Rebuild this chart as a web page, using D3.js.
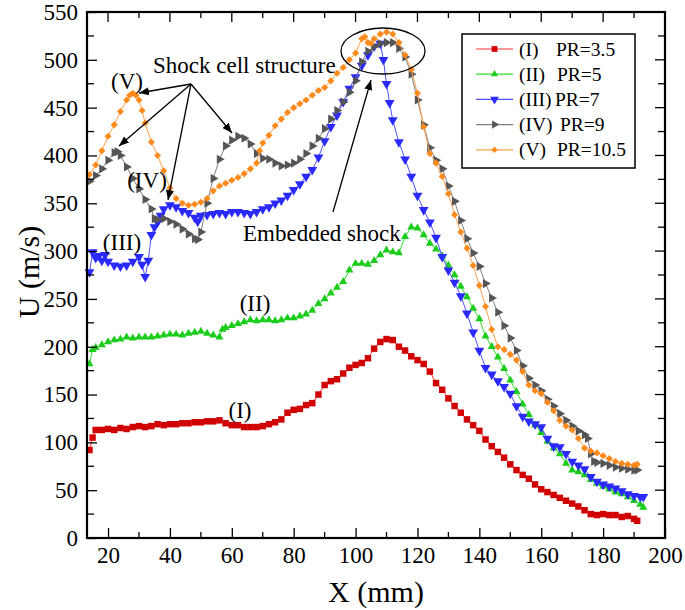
<!DOCTYPE html>
<html>
<head>
<meta charset="utf-8">
<script src="https://cdn.jsdelivr.net/npm/d3@7/dist/d3.min.js"></script>
<style>
  html, body { margin: 0; padding: 0; background: #fff; }
  svg { display: block; font-family: "Liberation Serif", "Times New Roman", serif; }
  svg text { font-family: "Liberation Serif", "Times New Roman", serif; }
</style>
</head>
<body>
<svg id="chart" width="685" height="610"></svg>
<script>
// ---------- DATA ----------
const xTicks = [20, 40, 60, 80, 100, 120, 140, 160, 180, 200];
const yTicks = [0, 50, 100, 150, 200, 250, 300, 350, 400, 450, 500, 550];

const x1 = [14,15,16,18,20,22,24,26,28,30,32,34,36,38,40,42,44,46,48,50,52,54,56,58,60,62,64,66,68,70,72,74,76,78,80,82,84,86,88,90,92,94,96,98,100,102,104,106,108,110,112,114,116,118,120,122,124,126,128,130,132,134,136,138,140,142,144,146,148,150,152,154,156,158,160,162,164,166,168,170,172,174,176,178,180,182,184,186,188,190,191];
const u1 = [92,105,113,113,114,113,115,114,116,117,116,117,119,118,119,119,120,120,121,121,122,122,123,120,118,118,116,116,116,117,119,121,124,131,134,135,139,141,150,160,164,166,172,178,181,183,188,198,205,208,207,200,196,190,186,182,174,162,155,146,138,131,124,118,112,103,96,90,84,77,71,66,62,56,51,48,45,42,39,36,33,29,25,24,25,24,24,22,23,20,18];

const x2 = [14,15,16,18,20,22,24,26,28,30,32,34,36,38,40,42,44,46,48,50,52,54,56,57,58,60,62,64,66,68,70,72,74,76,78,80,82,84,86,88,90,92,94,96,98,100,102,104,106,108,110,112,114,116,118,120,122,124,126,128,130,132,134,136,138,140,142,144,146,148,150,152,154,156,158,160,162,164,166,168,170,172,174,176,178,180,182,184,186,188,190,192,193];
const u2 = [182,197,199,202,205,207,208,210,209,210,210,210,211,212,213,213,212,214,215,216,214,212,210,218,220,222,224,226,228,227,228,228,227,228,230,230,232,234,238,245,250,256,262,268,280,287,287,286,290,296,301,299,298,315,325,324,317,308,302,295,285,275,263,252,240,229,211,200,189,177,165,153,140,129,118,110,101,94,88,78,71,69,66,61,57,54,51,48,46,43,39,35,32];

const x3 = [14,15,16,17,18,19,20,22,24,26,28,30,31,32,33,34,35,36,37,38,40,42,44,46,48,49,50,52,54,56,58,60,62,64,66,68,70,72,74,76,78,80,82,84,86,88,90,92,94,96,98,100,102,104,106,108,109,110,111,112,114,116,118,120,122,124,126,128,130,132,134,136,138,140,142,144,146,148,150,152,154,156,158,160,162,164,166,168,170,172,174,176,178,180,182,184,186,188,190,192,193];
const u3 = [278,299,293,295,290,296,289,285,284,285,289,294,286,273,290,317,325,330,337,344,348,346,342,340,335,331,337,338,339,340,339,341,341,340,339,341,344,346,350,353,358,364,370,378,385,398,415,430,442,456,470,482,494,505,514,517,500,475,455,437,414,396,378,358,343,330,314,294,280,267,253,235,215,196,178,171,164,158,151,138,127,122,119,116,104,96,95,88,80,76,72,64,59,56,54,52,49,46,44,43,43];

const x4 = [14,16,18,20,22,23,24,26,28,30,32,34,35,36,38,40,42,44,46,48,49,50,52,54,56,58,60,62,64,66,68,70,72,74,76,78,80,82,84,86,88,90,92,94,96,98,100,102,104,106,108,110,112,114,116,118,120,122,124,126,128,130,132,134,136,138,140,142,144,146,148,150,152,154,156,158,160,162,164,166,168,170,172,174,175,176,177,178,180,182,184,186,188,190,191];
const u4 = [373,379,386,395,403,404,400,388,376,365,354,344,334,333,334,331,328,323,318,313,312,320,350,376,396,410,416,420,418,412,402,397,396,392,389,390,392,396,402,410,418,428,438,447,456,466,478,498,509,514,517,518,518,512,503,485,458,432,408,395,386,368,352,332,313,298,284,266,251,236,222,209,196,180,167,160,154,145,138,130,123,117,112,108,104,88,80,79,78,76,74,73,72,71,71];

const x5 = [14,16,18,20,22,24,26,27,28,29,30,31,32,34,36,38,40,42,44,46,48,50,52,54,56,58,60,62,64,66,68,69,70,72,74,76,78,80,82,84,86,88,90,92,94,96,98,100,102,103,104,105,106,108,110,112,114,116,118,120,122,124,126,128,130,132,134,136,138,140,142,144,146,148,150,152,154,156,158,160,162,164,166,168,170,172,174,176,178,180,182,184,186,188,190,191];
const u5 = [380,390,405,420,432,446,458,463,465,463,458,447,434,414,400,384,366,355,350,348,349,351,355,363,368,371,374,377,381,386,392,405,413,421,431,438,445,450,454,458,463,468,471,478,486,492,500,507,522,524,518,517,522,527,529,527,518,505,490,465,430,402,392,378,360,338,320,303,285,264,242,218,200,197,192,186,174,160,154,151,142,133,123,117,113,104,94,91,89,86,83,80,78,77,76,77];

const seriesNames = ["(I)", "(II)", "(III)", "(IV)", "(V)"];
const seriesPR = ["PR=3.5", "PR=5", "PR=7", "PR=9", "PR=10.5"];
const seriesColors = ["#d00000", "#1ccc1c", "#2a2aff", "#555555", "#ff8a1c"];
const lineColors = ["#ff3030", "#30dd30", "#5050ff", "#808080", "#ffa050"];

// ---------- CHART ----------
const svg = d3.select("#chart");
const SERIF = '"Liberation Serif", "Times New Roman", serif';
const L = 87, R = 665, T = 12, B = 538;
const x = d3.scaleLinear().domain([13.2, 200]).range([L, R]);
const y = d3.scaleLinear().domain([0, 550]).range([B, T]);

const series = [[x1,u1],[x2,u2],[x3,u3],[x4,u4],[x5,u5]].map((p, i) => ({
  name: seriesNames[i], pr: seriesPR[i], color: seriesColors[i], lc: lineColors[i],
  pts: p[0].map((xv, j) => ({x: xv, u: p[1][j]}))
}));

const symbols = [
  {type: d3.symbolSquare, size: 42, rot: 0},
  {type: d3.symbolTriangle, size: 28, rot: 0},
  {type: d3.symbolTriangle, size: 42, rot: 180},
  {type: d3.symbolTriangle, size: 36, rot: 90},
  {type: d3.symbolDiamond2, size: 32, rot: 0}
];

const line = d3.line().x(d => x(d.x)).y(d => y(d.u));

series.forEach((s, i) => {
  const g = svg.append("g");
  g.append("path").attr("d", line(s.pts)).attr("fill", "none")
    .attr("stroke", s.lc).attr("stroke-width", 1);
  const sym = d3.symbol().type(symbols[i].type).size(symbols[i].size);
  g.selectAll("path.m").data(s.pts).join("path").attr("class", "m")
    .attr("d", sym())
    .attr("transform", d => `translate(${x(d.x)},${y(d.u)}) rotate(${symbols[i].rot})`)
    .attr("fill", s.color);
});

// axes frame
const axG = svg.append("g");
const xAxisB = d3.axisBottom(x).tickValues(xTicks).tickSizeInner(-10).tickSizeOuter(0).tickPadding(9);
const gxb = axG.append("g").attr("transform", `translate(0,${B})`).call(xAxisB);
gxb.attr("font-family", null).attr("font-size", null);
gxb.selectAll("text").attr("font-size", 23).attr("fill", "#000").style("font-family", SERIF);
const xMinor = d3.range(30, 200, 20);
axG.selectAll("line.xmb").data(xMinor).join("line").attr("x1", d => x(d)).attr("x2", d => x(d))
  .attr("y1", B).attr("y2", B - 6).attr("stroke", "#000").attr("stroke-width", 1.3);
axG.selectAll("line.xmt").data(xMinor).join("line").attr("x1", d => x(d)).attr("x2", d => x(d))
  .attr("y1", T).attr("y2", T + 6).attr("stroke", "#000").attr("stroke-width", 1.3);
axG.selectAll("line.xMt").data(xTicks).join("line").attr("x1", d => x(d)).attr("x2", d => x(d))
  .attr("y1", T).attr("y2", T + 10).attr("stroke", "#000").attr("stroke-width", 1.3);

const yAxisL = d3.axisLeft(y).tickValues(yTicks).tickSizeInner(-10).tickSizeOuter(0).tickPadding(9);
const gyl = axG.append("g").attr("transform", `translate(${L},0)`).call(yAxisL);
gyl.attr("font-family", null).attr("font-size", null);
gyl.selectAll("text").attr("font-size", 23).attr("fill", "#000").style("font-family", SERIF);
const yMinor = d3.range(25, 550, 50);
axG.selectAll("line.yml").data(yMinor).join("line").attr("x1", L).attr("x2", L + 7)
  .attr("y1", d => y(d)).attr("y2", d => y(d)).attr("stroke", "#000").attr("stroke-width", 1.3);
axG.selectAll("line.ymr").data(yMinor).join("line").attr("x1", R).attr("x2", R - 7)
  .attr("y1", d => y(d)).attr("y2", d => y(d)).attr("stroke", "#000").attr("stroke-width", 1.3);
axG.selectAll("line.yMr").data(yTicks).join("line").attr("x1", R).attr("x2", R - 10)
  .attr("y1", d => y(d)).attr("y2", d => y(d)).attr("stroke", "#000").attr("stroke-width", 1.3);
axG.selectAll(".tick line").attr("stroke-width", 1.3);
axG.selectAll(".domain").remove();
axG.append("rect").attr("x", L).attr("y", T).attr("width", R - L).attr("height", B - T)
  .attr("fill", "none").attr("stroke", "#000").attr("stroke-width", 2.2);

// axis titles
svg.append("text").attr("x", 376).attr("y", 602).attr("text-anchor", "middle")
  .attr("font-size", 30).text("X (mm)");
svg.append("text").attr("transform", "translate(39,272) rotate(-90)").attr("text-anchor", "middle")
  .attr("font-size", 30).text("U (m/s)");

// legend
const lg = svg.append("g");
lg.append("rect").attr("x", 462).attr("y", 34).attr("width", 173).attr("height", 134)
  .attr("fill", "#fff").attr("stroke", "#000").attr("stroke-width", 1.5);
const prX = [556, 557, 555, 560, 557];
series.forEach((s, i) => {
  const yy = 49 + i * 25.2;
  lg.append("line").attr("x1", 476).attr("x2", 513).attr("y1", yy).attr("y2", yy)
    .attr("stroke", s.lc).attr("stroke-width", 1.2);
  lg.append("path").attr("d", d3.symbol().type(symbols[i].type).size(symbols[i].size * 0.8)())
    .attr("transform", `translate(494.5,${yy}) rotate(${symbols[i].rot})`).attr("fill", s.color);
  lg.append("text").attr("x", 519).attr("y", yy + 6.5).attr("font-size", 19.5).text(s.name);
  lg.append("text").attr("x", prX[i]).attr("y", yy + 6.5).attr("font-size", 19.5).text(s.pr);
});

// annotations
const ann = svg.append("g").attr("font-size", 23);
ann.append("text").attr("x", 127).attr("y", 89).attr("text-anchor", "middle").text("(V)");
ann.append("text").attr("x", 147).attr("y", 188).attr("text-anchor", "middle").text("(IV)");
ann.append("text").attr("x", 122).attr("y", 250).attr("text-anchor", "middle").text("(III)");
ann.append("text").attr("x", 255).attr("y", 311).attr("text-anchor", "middle").text("(II)");
ann.append("text").attr("x", 240).attr("y", 418).attr("text-anchor", "middle").text("(I)");
ann.append("text").attr("x", 153).attr("y", 73).text("Shock cell structure");
ann.append("text").attr("x", 243).attr("y", 241).text("Embedded shock");

const defs = svg.append("defs");
defs.append("marker").attr("id", "ah").attr("viewBox", "0 0 10 10").attr("refX", 10).attr("refY", 5)
  .attr("markerWidth", 10).attr("markerHeight", 10).attr("markerUnits", "userSpaceOnUse")
  .attr("orient", "auto").append("path").attr("d", "M0,1 L10,5 L0,9 Z").attr("fill", "#000");

const arrows = [
  [191, 84, 139, 93],
  [191, 84, 119, 146],
  [191, 84, 168, 200],
  [191, 84, 232, 133],
  [333, 212, 371, 80]
];
ann.selectAll("line.ar").data(arrows).join("line").attr("class", "ar")
  .attr("x1", d => d[0]).attr("y1", d => d[1]).attr("x2", d => d[2]).attr("y2", d => d[3])
  .attr("stroke", "#000").attr("stroke-width", 1.3).attr("marker-end", "url(#ah)");
ann.append("ellipse").attr("cx", 383).attr("cy", 51).attr("rx", 42).attr("ry", 23)
  .attr("fill", "none").attr("stroke", "#000").attr("stroke-width", 1.3);
</script>
</body>
</html>
